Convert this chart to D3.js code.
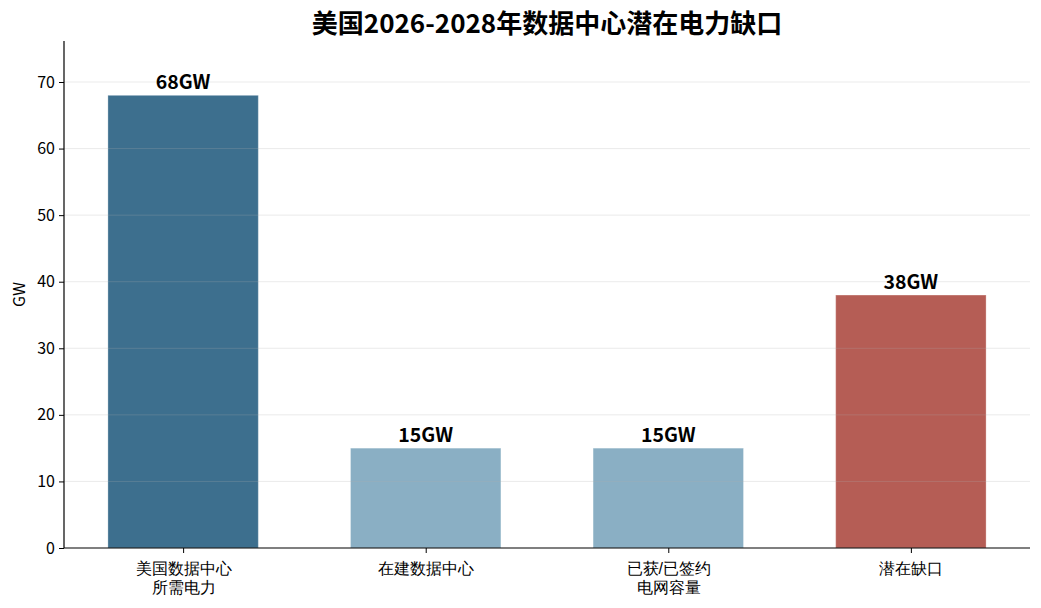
<!DOCTYPE html>
<html><head><meta charset="utf-8">
<script src="https://cdn.jsdelivr.net/npm/d3@7/dist/d3.min.js"></script>
<style>body{margin:0;background:#fff}svg{display:block;font-family:"Noto Sans CJK SC","Noto Sans",sans-serif}</style>
</head><body><svg id="c" width="1041" height="608"></svg>
<script>
const categories = ["美国数据中心\n所需电力", "在建数据中心", "已获/已签约\n电网容量", "潜在缺口"];
const values = [68, 15, 15, 38];
const valueLabels = ["68GW", "15GW", "15GW", "38GW"];
const colors = ["#3d6f8e", "#8aafc4", "#8aafc4", "#b55d55"];
const yTicks = [0, 10, 20, 30, 40, 50, 60, 70];
const title = "美国2026-2028年数据中心潜在电力缺口";
const yLabel = "GW";

const svg = d3.select("#c");
const m = {l: 64, r: 1030, t: 41, b: 548};
const bw = 0.62;
const x = d3.scaleLinear().domain([-0.491, 3.491]).range([m.l, m.r]);
const y = d3.scaleLinear().domain([0, 76.16]).range([m.b, m.t]);

// bars
svg.selectAll("rect.bar").data(values).enter().append("rect")
  .attr("x", (d, i) => x(i - bw / 2)).attr("width", x(bw) - x(0))
  .attr("y", d => y(d)).attr("height", d => y(0) - y(d))
  .attr("fill", (d, i) => colors[i]).attr("stroke", "#fff").attr("stroke-opacity", 0.3).attr("stroke-width", 1);

// grid (over bars, faint)
svg.append("g").selectAll("line").data(yTicks.filter(t => t > 0)).enter().append("line")
  .attr("x1", m.l).attr("x2", m.r).attr("y1", d => y(d)).attr("y2", d => y(d))
  .attr("stroke", "#b0b0b0").attr("stroke-opacity", 0.25).attr("stroke-width", 1);

// axes
const ya = d3.axisLeft(y).tickValues(yTicks).tickSize(5).tickPadding(4);
const gy = svg.append("g").attr("transform", `translate(${m.l},0)`).call(ya);
gy.select(".domain").attr("d", `M0,${m.t}V${m.b}`).attr("stroke", "#000").attr("stroke-width", 1.2);
gy.selectAll(".tick line").attr("stroke", "#000");
gy.selectAll(".tick text").attr("font-size", 16).attr("fill", "#000").style("font-family", '"Noto Sans CJK SC"');

const xa = d3.axisBottom(x).tickValues([0, 1, 2, 3]).tickSize(5).tickFormat(() => "");
const gx = svg.append("g").attr("transform", `translate(0,${m.b})`).call(xa);
gx.select(".domain").attr("d", `M${m.l},0H${m.r}`).attr("stroke", "#000").attr("stroke-width", 1.2);
gx.selectAll(".tick line").attr("stroke", "#000");
gx.selectAll(".tick").each(function(d) {
  const lines = categories[d].split("\n");
  const t = d3.select(this).append("text").attr("text-anchor", "middle").attr("fill", "#000").attr("font-size", 16);
  lines.forEach((s, k) => t.append("tspan").attr("x", 0).attr("y", 25.5 + k * 19.5).text(s));
});

// value labels
svg.selectAll("text.val").data(values).enter().append("text")
  .attr("x", (d, i) => x(i)).attr("y", d => y(d) - 6.5)
  .attr("text-anchor", "middle").attr("font-weight", "bold").attr("font-size", 19.5)
  .text((d, i) => valueLabels[i]);

// title
svg.append("text").attr("x", (m.l + m.r) / 2).attr("y", 33).attr("text-anchor", "middle")
  .attr("font-weight", "bold").attr("font-size", 26).text(title);

// y label
svg.append("text").attr("transform", `translate(25,${(m.t + m.b) / 2}) rotate(-90)`)
  .attr("text-anchor", "middle").attr("font-size", 16).text(yLabel);
</script></body></html>
